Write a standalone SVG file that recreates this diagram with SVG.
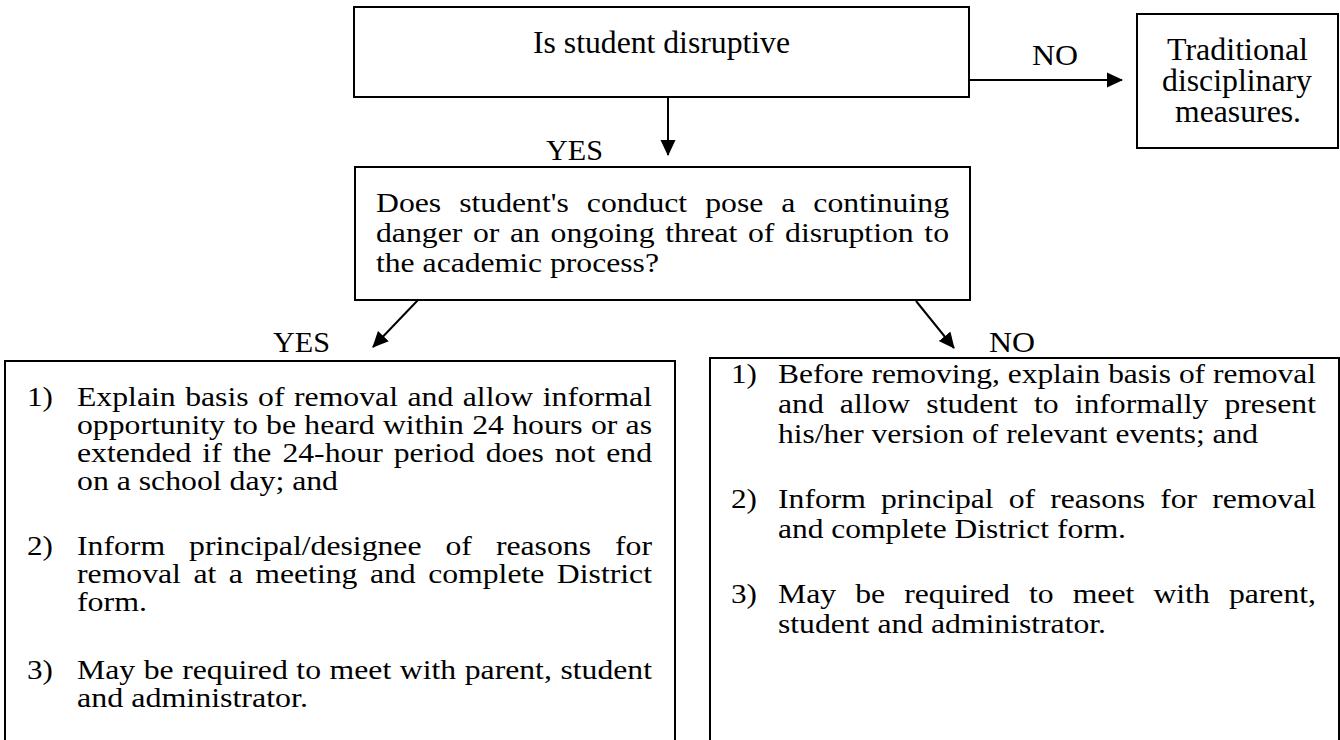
<svg xmlns="http://www.w3.org/2000/svg" width="1340" height="740" viewBox="0 0 1340 740" font-family="'Liberation Serif', 'Times New Roman', Times, serif">
<defs>
<style>
.box{fill:#fff;stroke:#000;stroke-width:2}
.t{font-family:'Liberation Serif','Times New Roman',Times,serif;font-size:28px;fill:#000}
.h{font-size:31px}
.l{font-size:30px}
.c{stroke:#000;stroke-width:2;fill:none}
</style>
<marker id="ah" markerUnits="userSpaceOnUse" markerWidth="16" markerHeight="16" refX="15" refY="8" orient="auto">
<path d="M0,0.5 L16,8 L0,15.5 Z" fill="#000"/>
</marker>
</defs>
<rect width="1340" height="740" fill="#fff"/>

<g id="n-disruptive">
<rect class="box" x="354" y="7" width="615" height="90"/>
<text class="t h" x="533" y="53" textLength="257" lengthAdjust="spacingAndGlyphs">Is student disruptive</text>
</g>

<g id="n-traditional">
<rect class="box" x="1137" y="14" width="201" height="134"/>
<text class="t h" x="1167" y="60" textLength="141" lengthAdjust="spacingAndGlyphs">Traditional</text>
<text class="t h" x="1162" y="91" textLength="150" lengthAdjust="spacingAndGlyphs">disciplinary</text>
<text class="t h" x="1175" y="122" textLength="126" lengthAdjust="spacingAndGlyphs">measures.</text>
</g>

<g id="n-question">
<rect class="box" x="355" y="167" width="615" height="133"/>
<text class="t" x="376" y="212" word-spacing="8.9" textLength="573" lengthAdjust="spacingAndGlyphs">Does student's conduct pose a continuing</text>
<text class="t" x="376" y="242" word-spacing="2.4" textLength="573" lengthAdjust="spacingAndGlyphs">danger or an ongoing threat of disruption to</text>
<text class="t" x="376" y="272" textLength="283" lengthAdjust="spacingAndGlyphs">the academic process?</text>
</g>

<g id="n-yes-steps">
<rect class="box" x="5" y="361" width="670" height="400"/>
<text class="t" x="27" y="406" textLength="26" lengthAdjust="spacingAndGlyphs">1)</text>
<text class="t" x="77" y="406" word-spacing="1.4" textLength="575" lengthAdjust="spacingAndGlyphs">Explain basis of removal and allow informal</text>
<text class="t" x="77" y="434" word-spacing="0.3" textLength="575" lengthAdjust="spacingAndGlyphs">opportunity to be heard within 24 hours or as</text>
<text class="t" x="77" y="462" word-spacing="2.7" textLength="575" lengthAdjust="spacingAndGlyphs">extended if the 24-hour period does not end</text>
<text class="t" x="77" y="490" textLength="261" lengthAdjust="spacingAndGlyphs">on a school day; and</text>
<text class="t" x="27" y="555" textLength="26" lengthAdjust="spacingAndGlyphs">2)</text>
<text class="t" x="77" y="555" word-spacing="14.2" textLength="575" lengthAdjust="spacingAndGlyphs">Inform principal/designee of reasons for</text>
<text class="t" x="77" y="583" word-spacing="4" textLength="575" lengthAdjust="spacingAndGlyphs">removal at a meeting and complete District</text>
<text class="t" x="77" y="611" textLength="70" lengthAdjust="spacingAndGlyphs">form.</text>
<text class="t" x="27" y="679" textLength="26" lengthAdjust="spacingAndGlyphs">3)</text>
<text class="t" x="77" y="679" word-spacing="0.6" textLength="575" lengthAdjust="spacingAndGlyphs">May be required to meet with parent, student</text>
<text class="t" x="77" y="707" textLength="231" lengthAdjust="spacingAndGlyphs">and administrator.</text>
</g>

<g id="n-no-steps">
<rect class="box" x="710" y="358" width="629" height="400"/>
<text class="t" x="731" y="383" textLength="26" lengthAdjust="spacingAndGlyphs">1)</text>
<text class="t" x="778" y="383" textLength="538" lengthAdjust="spacingAndGlyphs">Before removing, explain basis of removal</text>
<text class="t" x="778" y="413" word-spacing="7.2" textLength="538" lengthAdjust="spacingAndGlyphs">and allow student to informally present</text>
<text class="t" x="778" y="443" textLength="480" lengthAdjust="spacingAndGlyphs">his/her version of relevant events; and</text>
<text class="t" x="731" y="508" textLength="26" lengthAdjust="spacingAndGlyphs">2)</text>
<text class="t" x="778" y="508" word-spacing="6.3" textLength="538" lengthAdjust="spacingAndGlyphs">Inform principal of reasons for removal</text>
<text class="t" x="778" y="538" textLength="348" lengthAdjust="spacingAndGlyphs">and complete District form.</text>
<text class="t" x="731" y="603" textLength="26" lengthAdjust="spacingAndGlyphs">3)</text>
<text class="t" x="778" y="603" word-spacing="9.9" textLength="538" lengthAdjust="spacingAndGlyphs">May be required to meet with parent,</text>
<text class="t" x="778" y="633" textLength="328" lengthAdjust="spacingAndGlyphs">student and administrator.</text>
</g>

<g id="connectors">
<line class="c" x1="668" y1="97" x2="668" y2="155" marker-end="url(#ah)"/>
<line class="c" x1="969" y1="80" x2="1122" y2="80" marker-end="url(#ah)"/>
<line class="c" x1="418" y1="300" x2="373" y2="347" marker-end="url(#ah)"/>
<line class="c" x1="916" y1="301" x2="954" y2="348" marker-end="url(#ah)"/>
<text class="t l" x="546" y="160" textLength="57" lengthAdjust="spacingAndGlyphs">YES</text>
<text class="t l" x="1032" y="65" textLength="46" lengthAdjust="spacingAndGlyphs">NO</text>
<text class="t l" x="273" y="352" textLength="57" lengthAdjust="spacingAndGlyphs">YES</text>
<text class="t l" x="989" y="352" textLength="46" lengthAdjust="spacingAndGlyphs">NO</text>
</g>
</svg>
